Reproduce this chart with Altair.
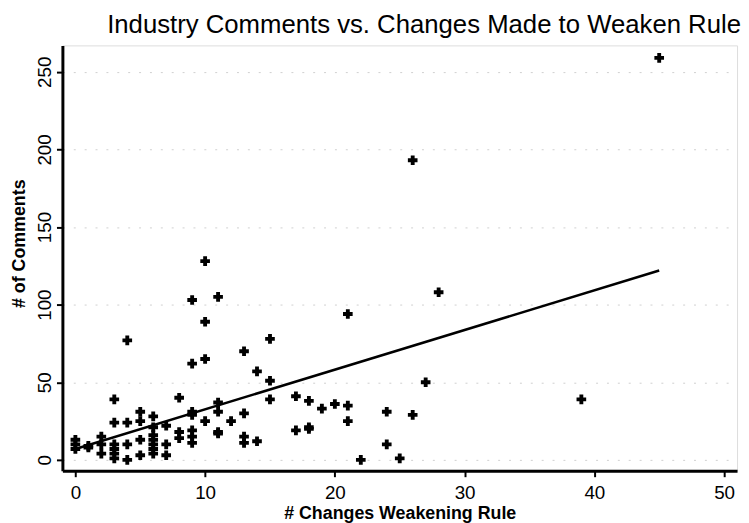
import altair as alt
import pandas as pd

# scatter data: (# changes weakening rule, # of comments)
changes = [0, 0, 0, 1, 1, 2, 2, 2,
           3, 3, 3, 3, 3, 3,
           4, 4, 4, 4,
           5, 5, 5, 5,
           6, 6, 6, 6, 6, 6, 6,
           7, 7, 7,
           8, 8, 8,
           9, 9, 9, 9, 9, 9, 9,
           10, 10, 10, 10,
           11, 11, 11, 11, 11,
           12,
           13, 13, 13, 13,
           14, 14,
           15, 15, 15,
           17, 17,
           18, 18, 18,
           19, 20,
           21, 21, 21,
           22, 24, 24, 25, 26, 26, 27, 28, 39, 45]
comments = [13, 10, 7, 9, 8, 15, 10, 4,
            39, 24, 10, 7, 4, 1,
            77, 24, 10, 0,
            31, 25, 13, 3,
            28, 21, 16, 13, 10, 7, 4,
            22, 10, 3,
            40, 18, 14,
            103, 62, 31, 29, 19, 15, 11,
            128, 89, 65, 25,
            105, 37, 31, 18, 17,
            25,
            70, 30, 15, 11,
            57, 12,
            78, 51, 39,
            41, 19,
            38, 21, 20,
            33, 36,
            94, 35, 25,
            0, 31, 10, 1, 193, 29, 50, 108, 39, 259]

# fitted line end points
fit_x = [0, 45]
fit_y = [7, 122]

x_ticks = [0, 10, 20, 30, 40, 50]
y_ticks = [0, 50, 100, 150, 200, 250]

pts = pd.DataFrame({"changes": changes, "comments": comments})
fit = pd.DataFrame({"changes": fit_x, "comments": fit_y})

FONT = "Liberation Sans"

xs = alt.Scale(domain=[-1, 51], nice=False, zero=False)
ys = alt.Scale(domain=[-7, 267], nice=False, zero=False)

xax = alt.Axis(values=x_ticks, title="# Changes Weakening Rule", grid=False,
               domainColor="black", domainWidth=3, tickColor="black", tickWidth=2,
               tickSize=6, labelFont=FONT, labelFontSize=19, labelColor="black",
               labelPadding=7, titleFont=FONT, titleFontSize=18, titleFontWeight="bold",
               titleColor="black", titlePadding=2)
yax = alt.Axis(values=y_ticks, title="# of Comments", grid=True,
               gridColor="#cfcfcf", gridDash=[2, 9], gridWidth=1,
               domainColor="black", domainWidth=3, tickColor="black", tickWidth=2,
               tickSize=6, labelFont=FONT, labelFontSize=19, labelColor="black",
               labelAngle=-90, labelAlign="center", labelBaseline="bottom",
               labelPadding=2, titleFont=FONT, titleFontSize=18, titleFontWeight="bold",
               titleColor="black", titleY=200, titleX=-34, titleAlign="center",
               titleAngle=-90, titleBaseline="bottom")

points = alt.Chart(pts).mark_point(shape="cross", filled=True, color="black",
                                   size=95, opacity=1).encode(
    x=alt.X("changes:Q", scale=xs, axis=xax),
    y=alt.Y("comments:Q", scale=ys, axis=yax),
)

line = alt.Chart(fit).mark_line(color="black", strokeWidth=2.5).encode(
    x=alt.X("changes:Q", scale=xs),
    y=alt.Y("comments:Q", scale=ys),
)

chart = alt.layer(points, line).properties(
    width=682, height=430,
    title=alt.Title("Industry Comments vs. Changes Made to Weaken Rule",
                    font=FONT, fontSize=26, fontWeight="normal", color="black",
                    anchor="end", offset=8, dx=4),
    autosize=alt.AutoSizeParams(type="none"),
    padding={"left": 55, "top": 35, "right": 4, "bottom": 50},
).configure_view(stroke=None).configure(background="white")

chart.save("out.html", embed_options={"renderer": "svg", "actions": False})
